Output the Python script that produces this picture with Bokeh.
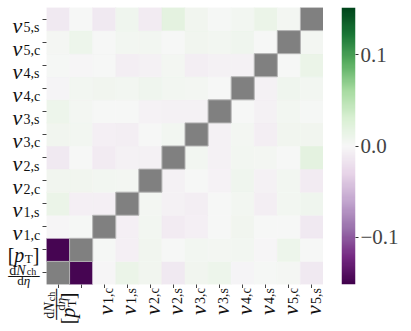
import numpy as np
from bokeh.plotting import figure
from bokeh.layouts import row, column
from bokeh.models import (ColumnDataSource, LinearColorMapper, FixedTicker, PrintfTickFormatter, Range1d)
from bokeh.transform import transform
from bokeh.core.properties import value
from bokeh.embed import file_html
from bokeh.resources import INLINE

# ---------------- data ----------------
variables = ["dNch/dη", "[pT]", "v1,c", "v1,s", "v2,c", "v2,s",
             "v3,c", "v3,s", "v4,c", "v4,s", "v5,c", "v5,s"]
corr_dNch = [None, -0.148, -0.002, 0.012, 0.006, -0.012, 0.006, 0.010, -0.003, 0.002, 0.003, -0.013]
corr_pT   = [-0.148, None, 0.002, -0.006, 0.006, 0.000, 0.005, 0.004, 0.005, -0.002, 0.010, 0.000]
corr_v1c  = [-0.002, 0.002, None, -0.006, 0.005, -0.010, -0.007, 0.000, 0.006, 0.000, 0.001, -0.012]
corr_v1s  = [0.012, -0.006, -0.006, None, 0.004, -0.005, -0.008, 0.000, 0.005, -0.008, 0.005, 0.008]
corr_v2c  = [0.006, 0.006, 0.005, 0.004, None, -0.005, 0.000, -0.004, 0.008, -0.005, 0.005, -0.010]
corr_v2s  = [-0.012, 0.000, -0.010, -0.005, -0.005, None, 0.005, -0.005, 0.005, 0.004, 0.000, 0.020]
corr_v3c  = [0.006, 0.005, -0.007, -0.008, 0.000, 0.005, None, -0.005, 0.004, -0.008, 0.006, 0.006]
corr_v3s  = [0.010, 0.004, 0.000, 0.000, -0.004, -0.005, -0.005, None, 0.000, -0.005, 0.005, 0.002]
corr_v4c  = [-0.003, 0.005, 0.006, 0.005, 0.008, 0.005, 0.004, 0.000, None, -0.005, 0.008, 0.005]
corr_v4s  = [0.002, -0.002, 0.000, -0.008, -0.005, 0.004, -0.008, -0.005, -0.005, None, 0.000, 0.012]
corr_v5c  = [0.003, 0.010, 0.001, 0.005, 0.005, 0.000, 0.006, 0.005, 0.008, 0.000, None, 0.004]
corr_v5s  = [-0.013, 0.000, -0.012, 0.008, -0.010, 0.020, 0.006, 0.002, 0.005, 0.012, 0.004, None]
rows = [corr_dNch, corr_pT, corr_v1c, corr_v1s, corr_v2c, corr_v2s,
        corr_v3c, corr_v3s, corr_v4c, corr_v4s, corr_v5c, corr_v5s]
color_limit = 0.152
cbar_ticks = [-0.1, 0.0, 0.1]
cbar_tick_labels = ["\u22120.1", "0.0", "0.1"]

# ---------------- colormap (PRGn) ----------------
anchors = ["#40004b", "#762a83", "#9970ab", "#c2a5cf", "#e7d4e8", "#f7f7f7",
           "#d9f0d3", "#a6dba0", "#5aae61", "#1b7837", "#00441b"]
def interp_palette(cols, n=256):
    rgb = np.array([[int(c[i:i + 2], 16) for i in (1, 3, 5)] for c in cols], float)
    pos = np.linspace(0, 1, len(cols))
    t = np.linspace(0, 1, n)
    out = np.stack([np.interp(t, pos, rgb[:, k]) for k in range(3)], 1)
    return ["#%02x%02x%02x" % tuple(int(round(v)) for v in c) for c in out]
palette = interp_palette(anchors)
mapper = LinearColorMapper(palette=palette, low=-color_limit, high=color_limit)

# ---------------- layout constants ----------------
N = len(variables)
FRAME = 277
CELL = FRAME / N
TOP = 7
LEFTW = 42      # width of the y-label strip
TICKB = 4       # axis (tick) border of the heatmap
BOTH = 43       # height of the x-label strip
XEXTRA = 24     # extra room right of the x-label strip

def bare(fig):
    fig.grid.visible = False
    fig.outline_line_color = None
    fig.background_fill_color = "white"
    fig.border_fill_color = "white"
    return fig

# ---------------- heatmap ----------------
off = dict(x=[], y=[], val=[])
diag = dict(x=[], y=[])
for k, r in enumerate(rows):
    for j, v in enumerate(r):
        if v is None:
            diag["x"].append(j); diag["y"].append(k)
        else:
            off["x"].append(j); off["y"].append(k); off["val"].append(v)

p = bare(figure(frame_width=FRAME, frame_height=FRAME, x_range=(-0.5, N - 0.5), y_range=(-0.5, N - 0.5),
                output_backend="svg", toolbar_location=None,
                min_border_left=TICKB, min_border_top=TOP, min_border_bottom=TICKB, min_border_right=0))
p.rect(x="x", y="y", width=1, height=1, source=ColumnDataSource(off),
       fill_color=transform("val", mapper), line_color=transform("val", mapper), line_width=0.5)
p.rect(x="x", y="y", width=1, height=1, source=ColumnDataSource(diag),
       fill_color="#808080", line_color="#b4b4b4", line_width=1)
for ax in (p.xaxis[0], p.yaxis[0]):
    ax.ticker = FixedTicker(ticks=list(range(N)))
    ax.major_label_overrides = {i: "" for i in range(N)}
    ax.major_label_text_font_size = "1px"
    ax.major_label_standoff = 0
    ax.major_tick_out = 4
    ax.major_tick_in = 0
    ax.major_tick_line_color = "#444444"
    ax.minor_tick_line_color = None
    ax.axis_line_color = None

# ---------------- tick-label strips (math-like labels built from pieces) ----------------
SERIF = "Liberation Serif"
MONO = "DejaVu Sans Mono"
def v_label(name):
    num, typ = name[1], name[3]
    return dict(L=27, ybase=6, xperp=1.7, xgap=3.5,
                pieces=[("v", SERIF, "italic", 22, 0, 0),
                        (num + "," + typ, SERIF, "normal", 14, 11, 2.5)])
pT_label = dict(L=31.7, ybase=5, xperp=-13.6, xgap=8,
                pieces=[("[", SERIF, "normal", 20, 0, 0), ("p", SERIF, "italic", 20, 6.5, 0),
                        ("T", SERIF, "normal", 13, 17, 3.5), ("]", SERIF, "normal", 20, 25, 0)])
frac_label = dict(L=31.3, ybase=-0.3, xperp=-6, xgap=4,
                  pieces=[("d", SERIF, "normal", 14, 1, -2.5), ("N", SERIF, "italic", 14, 8, -2.5),
                          ("ch", SERIF, "normal", 10, 18.5, -1), ("\u2500\u2500\u2500\u2500", MONO, "normal", 13, 0, 4),
                          ("d", SERIF, "normal", 13, 9, 8), ("\u03b7", SERIF, "italic", 13, 15.5, 8)])
labels = [frac_label, pT_label] + [v_label(nm) for nm in variables[2:]]

# y-label strip: frame aligned with the heatmap frame
yl = bare(figure(frame_width=LEFTW, frame_height=FRAME + TICKB, x_range=(0, LEFTW),
                 y_range=Range1d(-0.5 - TICKB / CELL, N - 0.5),
                 output_backend="svg", toolbar_location=None, x_axis_location=None, y_axis_location=None,
                 min_border_left=0, min_border_right=0, min_border_top=TOP, min_border_bottom=0))
XW = LEFTW + TICKB + FRAME + XEXTRA
xl = bare(figure(frame_width=XW, frame_height=BOTH,
                 x_range=Range1d(-0.5 - (LEFTW + TICKB) / CELL, N - 0.5 + XEXTRA / CELL),
                 y_range=(-(BOTH + TICKB), -TICKB),
                 output_backend="svg", toolbar_location=None, x_axis_location=None, y_axis_location=None,
                 min_border_left=0, min_border_right=0, min_border_top=0, min_border_bottom=0))

groups = {}
for i, lab in enumerate(labels):
    ystart = -(7 + lab["L"])
    xstart = -(lab["xgap"] + lab["L"])
    for (txt, font, style, size, along, down) in lab["pieces"]:
        g = groups.setdefault((font, style, size), dict(
            y=dict(x=[], y=[], text=[]), x=dict(x=[], y=[], text=[])))
        g["y"]["x"].append(LEFTW + TICKB + ystart + along)
        g["y"]["y"].append(i - (lab["ybase"] + down) / CELL)
        g["y"]["text"].append(txt)
        g["x"]["x"].append(i + (lab["xperp"] + down) / CELL)
        g["x"]["y"].append(xstart + along)
        g["x"]["text"].append(txt)

for (font, style, size), g in groups.items():
    common = dict(x="x", y="y", text="text", text_font=value(font), text_font_style=value(style),
                  text_font_size=value("%gpx" % size), text_align="left",
                  text_baseline="alphabetic", text_color="#111111")
    yl.text(source=ColumnDataSource(g["y"]), **common)
    xl.text(source=ColumnDataSource(g["x"]), angle=np.pi / 2, **common)

# ---------------- colour bar ----------------
cbf = bare(figure(frame_width=14, frame_height=FRAME, x_range=(0, 1), y_range=(-color_limit, color_limit),
                  output_backend="svg", toolbar_location=None, x_axis_location=None, y_axis_location="right",
                  min_border_left=18, min_border_right=0, min_border_top=TOP, min_border_bottom=TICKB))
gradient = np.linspace(-color_limit, color_limit, 256).reshape(256, 1)
cbf.image(image=[gradient], x=0, y=-color_limit, dw=1, dh=2 * color_limit, color_mapper=mapper)
cax = cbf.yaxis[0]
cax.ticker = FixedTicker(ticks=cbar_ticks)
cax.formatter = PrintfTickFormatter(format="%.1f")
cax.major_label_overrides = dict(zip(cbar_ticks, cbar_tick_labels))
cax.major_label_text_font = SERIF
cax.major_label_text_font_size = "21px"
cax.major_label_standoff = 2
cax.major_tick_out = 3
cax.major_tick_in = 0
cax.major_tick_line_color = "#333333"
cax.minor_tick_line_color = None
cax.axis_line_color = None

layout = column(row(yl, p, cbf), xl)
open("out.html", "w").write(file_html(layout, INLINE))
